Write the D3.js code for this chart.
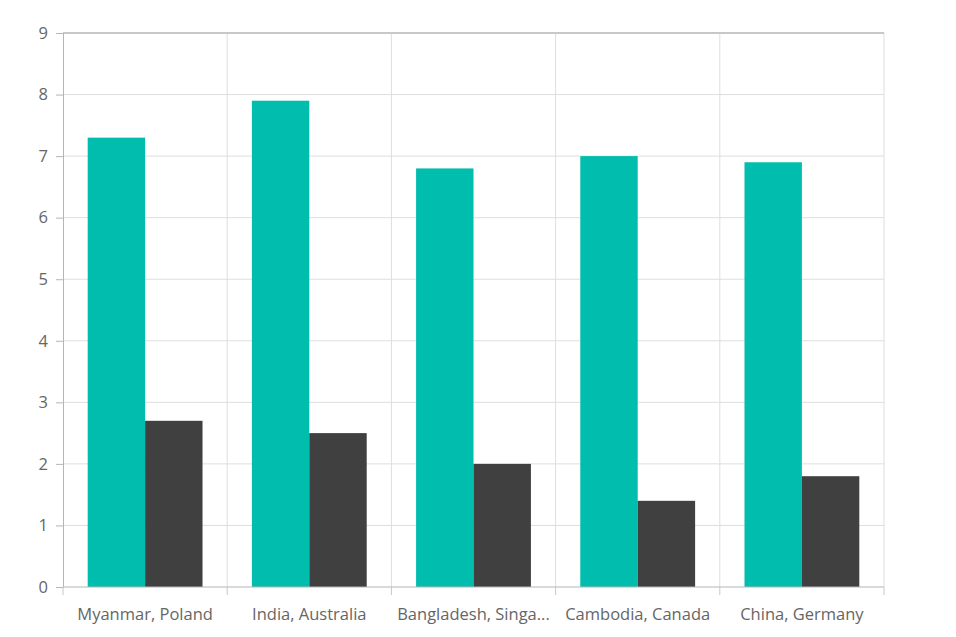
<!DOCTYPE html>
<html lang="en">
<head>
  <meta charset="UTF-8" />
  <title>Grouped columns</title>
  <style>
    body { margin: 0; background: #fff; font-family: "Open Sans", sans-serif; }
    svg { display: block; }
    .tick text { fill: #666; }
  </style>
</head>
<body>
  <svg id="chart"></svg>
  <script src="https://d3js.org/d3.v7.min.js"></script>
  <script>
    const categories = ["Myanmar, Poland", "India, Australia", "Bangladesh, Singapore", "Cambodia, Canada", "China, Germany"];
    const seriesNames = ["A", "B"];
    const seriesA = [7.3, 7.9, 6.8, 7.0, 6.9];
    const seriesB = [2.7, 2.5, 2.0, 1.4, 1.8];
    const yTicks = [0, 1, 2, 3, 4, 5, 6, 7, 8, 9];
    const colors = ["#00bdae", "#404041"];

    const fullWidth = 956, fullHeight = 637;
    const margin = { top: 33, right: 72, bottom: 50, left: 63 };
    const width = fullWidth - margin.left - margin.right;
    const height = fullHeight - margin.top - margin.bottom;
    const fontSize = 16.5;

    const root = d3.select("#chart").attr("width", fullWidth).attr("height", fullHeight);
    const svg = root.append("g").attr("transform", `translate(${margin.left},${margin.top})`);

    const x = d3.scaleBand().domain(categories).range([0, width]).paddingInner(0).paddingOuter(0);
    const xInner = d3.scaleBand().domain(seriesNames).range([0, x.bandwidth()]).paddingInner(0).paddingOuter(0.43);
    const y = d3.scaleLinear().domain([0, 9]).range([height, 0]);

    // horizontal grid
    svg.append("g").selectAll("line").data(yTicks.slice(1)).join("line")
      .attr("x1", 0).attr("x2", width)
      .attr("y1", d => y(d)).attr("y2", d => y(d))
      .attr("stroke", d => d === 9 ? "#b5b5b5" : "#dedede").attr("stroke-width", 1);

    // vertical grid at category boundaries
    const bounds = categories.map(c => x(c) + x.bandwidth());
    svg.append("g").selectAll("line").data(bounds).join("line")
      .attr("x1", d => d).attr("x2", d => d)
      .attr("y1", 0).attr("y2", height)
      .attr("stroke", "#dedede");

    const data = categories.map((c, i) => ({ cat: c, vals: [seriesA[i], seriesB[i]] }));
    svg.append("g").selectAll("g").data(data).join("g")
      .attr("transform", d => `translate(${x(d.cat)},0)`)
      .selectAll("rect").data(d => d.vals.map((v, j) => ({ key: seriesNames[j], v, j })))
      .join("rect")
      .attr("x", d => xInner(d.key))
      .attr("width", xInner.bandwidth())
      .attr("y", d => y(d.v))
      .attr("height", d => height - y(d.v))
      .attr("fill", d => colors[d.j]);

    // y axis
    const yAxis = svg.append("g").call(d3.axisLeft(y).tickValues(yTicks).tickSize(7).tickPadding(8));
    yAxis.select(".domain").attr("stroke", "#b5b5b5");
    yAxis.selectAll(".tick line").attr("stroke", "#b5b5b5");
    yAxis.selectAll(".tick text").attr("font-size", fontSize).attr("font-family", "Open Sans, sans-serif");

    // x axis
    const xAxisG = svg.append("g").attr("transform", `translate(0,${height})`);
    xAxisG.append("line").attr("x1", 0).attr("x2", width).attr("y1", 0).attr("y2", 0).attr("stroke", "#b5b5b5");
    xAxisG.selectAll("line.tk").data([0, ...bounds]).join("line").attr("class", "tk")
      .attr("x1", d => d).attr("x2", d => d).attr("y1", 0).attr("y2", 8)
      .attr("stroke", "#c8c8c8");
    const maxLabel = x.bandwidth() - 6;
    xAxisG.selectAll("text").data(categories).join("text")
      .attr("x", d => x(d) + x.bandwidth() / 2)
      .attr("y", 33)
      .attr("text-anchor", "middle")
      .attr("fill", "#666")
      .attr("font-size", fontSize)
      .attr("font-family", "Open Sans, sans-serif")
      .text(d => d)
      .each(function (d) {
        const t = d3.select(this);
        if (this.getComputedTextLength() > maxLabel) {
          let s = d;
          while (s.length > 1) {
            s = s.slice(0, -1);
            t.text(s + "...");
            if (this.getComputedTextLength() <= maxLabel) break;
          }
        }
      });

    // top border of plot area
    svg.append("line").attr("x1", 0).attr("x2", width).attr("y1", 0).attr("y2", 0).attr("stroke", "#b5b5b5");
  </script>
</body>
</html>
